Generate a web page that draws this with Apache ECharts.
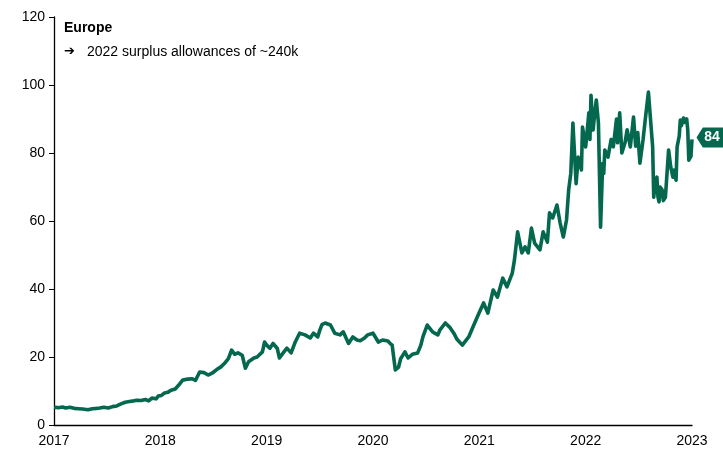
<!DOCTYPE html>
<html lang="en">
<head>
    <meta charset="UTF-8">
    <title>Europe carbon price</title>
    <style>
        html, body { margin: 0; padding: 0; background: #fff; }
        #chart { width: 723px; height: 453px; }
    </style>
</head>
<body>
    <div id="chart"></div>
    <script src="https://cdn.jsdelivr.net/npm/echarts@6/dist/echarts.min.js"></script>
    <script>
        // time as decimal years, price per allowance
        let years = [
            2017.00, 2017.04, 2017.08, 2017.11, 2017.15, 2017.19, 2017.23, 2017.27, 2017.32, 2017.36,
            2017.40, 2017.43, 2017.47, 2017.51, 2017.55, 2017.59, 2017.63, 2017.67, 2017.71, 2017.75,
            2017.78, 2017.82, 2017.86, 2017.89, 2017.92, 2017.96, 2017.98, 2018.01, 2018.04, 2018.07,
            2018.10, 2018.14, 2018.18, 2018.21, 2018.26, 2018.30, 2018.33, 2018.37, 2018.41, 2018.45,
            2018.49, 2018.53, 2018.57, 2018.60, 2018.64, 2018.67, 2018.70, 2018.73, 2018.77, 2018.80,
            2018.83, 2018.88, 2018.91, 2018.96, 2018.98, 2019.00, 2019.03, 2019.06, 2019.10, 2019.12,
            2019.15, 2019.19, 2019.23, 2019.27, 2019.31, 2019.36, 2019.41, 2019.44, 2019.48, 2019.50,
            2019.52, 2019.55, 2019.60, 2019.64, 2019.69, 2019.72, 2019.77, 2019.81, 2019.85, 2019.88,
            2019.92, 2019.95, 2020.00, 2020.05, 2020.09, 2020.14, 2020.16, 2020.18, 2020.21, 2020.24,
            2020.26, 2020.30, 2020.33, 2020.37, 2020.42, 2020.45, 2020.47, 2020.51, 2020.56, 2020.58,
            2020.61, 2020.63, 2020.68, 2020.72, 2020.76, 2020.79, 2020.84, 2020.90, 2020.94, 2020.99,
            2021.01, 2021.04, 2021.08, 2021.13, 2021.17, 2021.22, 2021.26, 2021.31, 2021.33, 2021.36,
            2021.40, 2021.43, 2021.46, 2021.49, 2021.52, 2021.57, 2021.60, 2021.64, 2021.66, 2021.69,
            2021.73, 2021.76, 2021.79, 2021.82,
            2021.84, 2021.86, 2021.88, 2021.91, 2021.93, 2021.96, 2021.97, 2022.00, 2022.03, 2022.04,
            2022.05, 2022.07, 2022.08, 2022.10, 2022.12, 2022.14, 2022.16, 2022.17, 2022.18, 2022.21,
            2022.24, 2022.26, 2022.29, 2022.30, 2022.32, 2022.34, 2022.37, 2022.39, 2022.42, 2022.45,
            2022.47, 2022.49, 2022.51, 2022.54, 2022.56, 2022.59, 2022.63, 2022.64, 2022.65, 2022.67,
            2022.68, 2022.69, 2022.70, 2022.72, 2022.73, 2022.75, 2022.78, 2022.80, 2022.82, 2022.83,
            2022.85, 2022.86, 2022.88, 2022.89, 2022.90, 2022.92, 2022.93, 2022.95, 2022.96, 2022.97,
            2022.99, 2023.00
        ];
        let prices = [
            5.2, 5.1, 5.3, 5.0, 5.2, 4.9, 4.8, 4.7, 4.5, 4.8,
            4.9, 5.0, 5.2, 5.0, 5.4, 5.6, 6.2, 6.7, 6.9, 7.1,
            7.3, 7.2, 7.5, 7.1, 7.9, 7.7, 8.5, 8.7, 9.4, 9.6,
            10.2, 10.6, 12.0, 13.2, 13.5, 13.6, 13.1, 15.6, 15.4, 14.7,
            15.3, 16.3, 17.1, 18.0, 19.5, 22.0, 20.8, 21.2, 20.5, 16.7,
            18.6, 19.7, 20.0, 21.5, 24.4, 23.5, 22.6, 24.0, 22.5, 19.7,
            21.0, 22.6, 21.2, 24.5, 27.0, 26.5, 25.6, 27.0, 25.9, 27.9,
            29.5, 30.0, 29.4, 27.0, 26.5, 27.4, 24.0, 25.9, 25.0, 24.8,
            25.6, 26.5, 27.0, 24.4, 25.0, 24.7, 24.0, 23.5, 16.2, 17.0,
            19.5, 21.5, 19.7, 20.8, 21.2, 23.5, 26.0, 29.4, 27.4, 27.0,
            26.5, 28.0, 30.0, 28.8, 27.0, 25.2, 23.5, 25.9, 28.8, 32.4,
            33.8, 35.9, 32.9, 39.7, 37.6, 43.2, 40.6, 44.7, 48.5, 56.8,
            50.6, 52.4, 50.6, 57.9, 53.5, 51.5, 56.8, 53.8, 62.4, 60.9,
            64.7, 59.4, 55.3, 60.3,
            69.1, 74.0, 88.8, 71.0, 78.8, 75.0, 87.6, 81.8, 91.8, 84.0,
            97.0, 86.8, 90.0, 95.6, 88.8, 58.2, 77.0, 74.0, 80.9, 78.8,
            84.0, 81.8, 90.0, 83.0, 91.8, 80.0, 83.0, 86.8, 81.8, 90.6,
            82.0, 86.0, 77.0, 84.0, 89.7, 97.9, 81.8, 67.0, 70.0, 72.9,
            67.0, 65.6, 70.0, 69.1, 66.0, 67.0, 80.9, 75.9, 72.9, 75.0,
            72.0, 81.8, 85.0, 89.7, 88.0, 90.3, 89.0, 90.0, 86.8, 77.9,
            79.0, 84.0
        ];

        let yTicks = [0, 20, 40, 60, 80, 100, 120];
        let title = 'Europe';
        let note = '2022 surplus allowances of ~240k';

        let green = '#04684e';
        let font = '"Liberation Sans", Arial, sans-serif';

        let chart = echarts.init(document.getElementById('chart'));
        let data = years.map((y, i) => [y, prices[i]]);
        let last = data[data.length - 1];

        let option = {
            animation: false,
            textStyle: { fontFamily: font },
            grid: { left: 54, right: 31, top: 17, bottom: 28 },
            graphic: [
                { type: 'text', left: 64, top: 21,
                  style: { text: title, font: 'bold 14px ' + font, fill: '#000' } },
                { type: 'text', left: 64, top: 45,
                  style: { text: '\u2794', font: 'bold 13px "DejaVu Sans"', fill: '#000' } },
                { type: 'text', left: 87, top: 45,
                  style: { text: note, font: '14px ' + font, fill: '#000' } }
            ],
            xAxis: {
                type: 'value',
                min: 2017, max: 2023, interval: 1,
                axisLine: { lineStyle: { color: '#000', width: 1.3 } },
                axisTick: { show: false },
                splitLine: { show: false },
                axisLabel: { color: '#000', fontSize: 14, margin: 9, formatter: v => String(v) }
            },
            yAxis: {
                type: 'value',
                min: yTicks[0], max: yTicks[yTicks.length - 1], interval: 20,
                axisLine: { show: true, lineStyle: { color: '#000', width: 1.3 } },
                axisTick: { show: true, length: 5, lineStyle: { color: '#000' } },
                splitLine: { show: false },
                axisLabel: { color: '#000', fontSize: 14, margin: 9 }
            },
            series: [{
                type: 'line',
                data: data,
                showSymbol: false,
                clip: false,
                lineStyle: { color: green, width: 3.6, join: 'round' },
                markPoint: {
                    symbol: 'path://M0,10 L7,0 L30,0 L30,20 L7,20 Z',
                    symbolKeepAspect: false,
                    symbolSize: [27, 20],
                    symbolOffset: [18, -2],
                    itemStyle: { color: green },
                    label: {
                        show: true, color: '#fff', fontWeight: 'bold', fontSize: 14,
                        offset: [2, 0], formatter: () => String(last[1])
                    },
                    data: [{ coord: last }]
                }
            }]
        };
        chart.setOption(option);
    </script>
</body>
</html>
